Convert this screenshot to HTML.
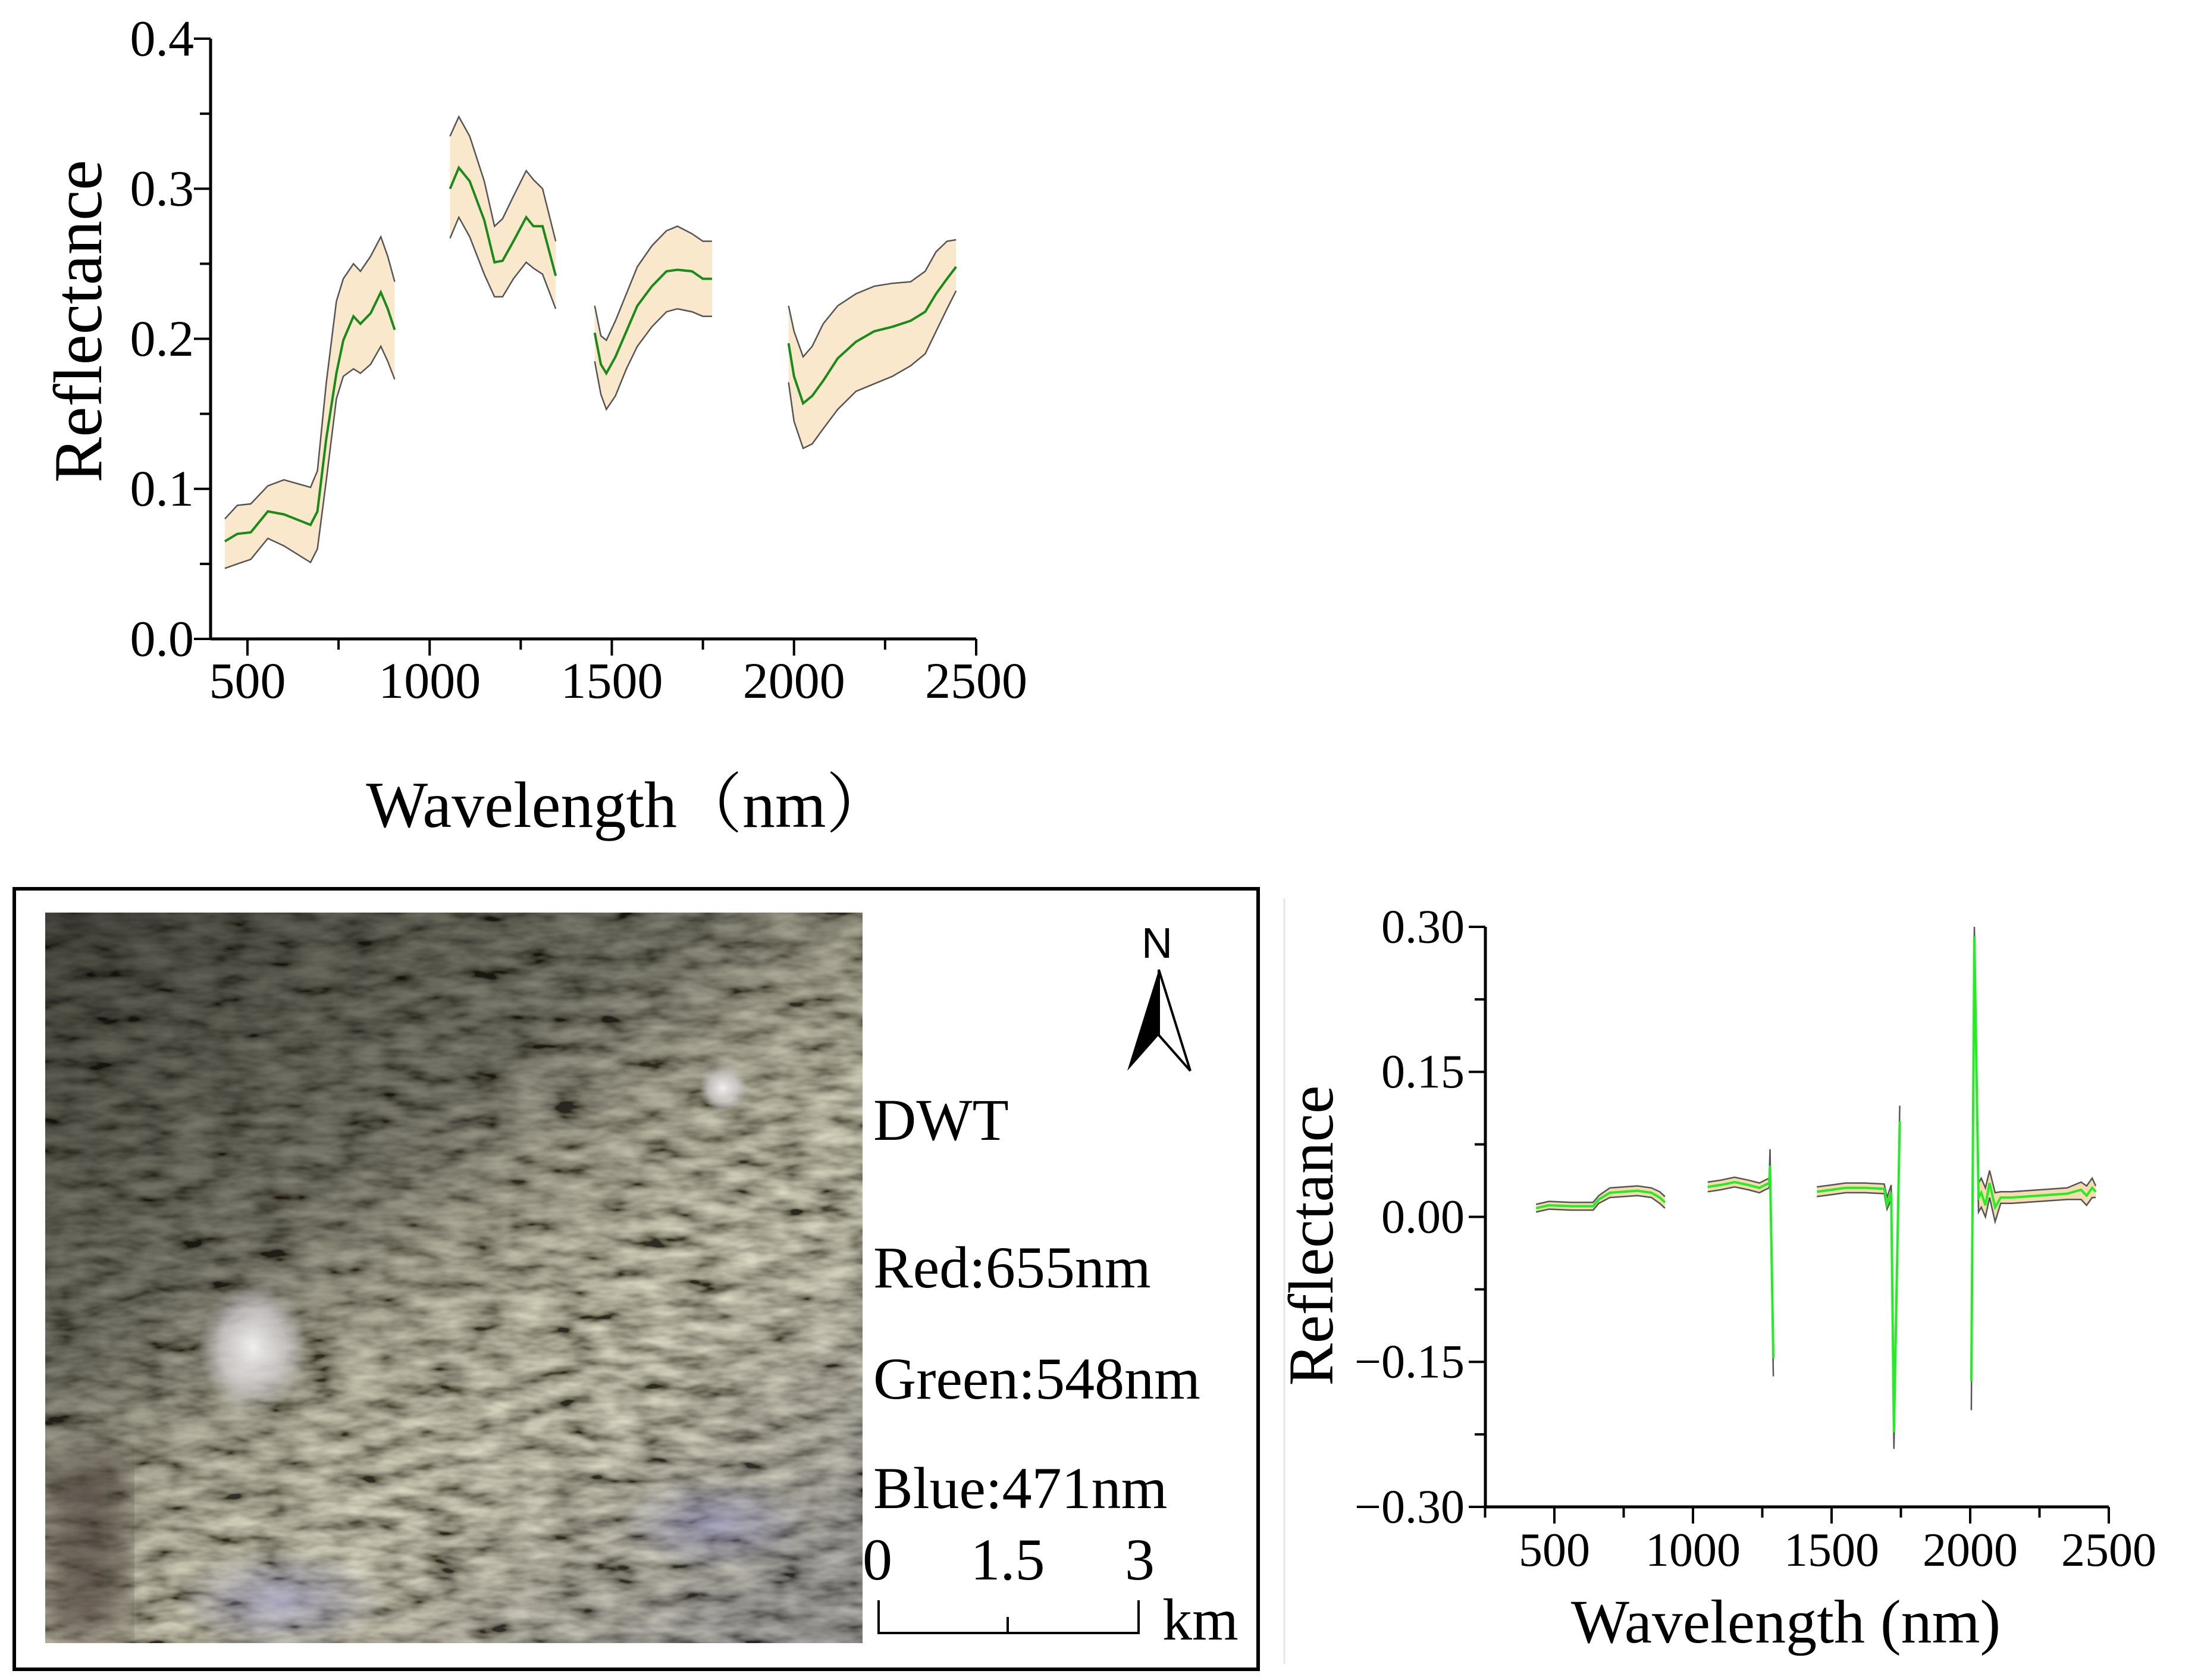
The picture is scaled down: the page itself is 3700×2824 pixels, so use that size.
<!DOCTYPE html>
<html><head><meta charset="utf-8"><style>
html,body{margin:0;padding:0;background:#fff;}
svg{display:block;font-family:"Liberation Serif","Noto Serif CJK SC",serif;}
</style></head><body>
<svg id="fig" width="3700" height="2824" viewBox="0 0 3700 2824" xmlns="http://www.w3.org/2000/svg">
<defs>
<filter id="tex" x="0" y="0" width="100%" height="100%">
<feTurbulence type="fractalNoise" baseFrequency="0.014 0.04" numOctaves="3" seed="11" result="n"/>
<feColorMatrix type="matrix" in="n" values="1.45 0 0 0 -0.28  1.42 0 0 0 -0.28  1.2 0 0 0 -0.25  0 0 0 0 1"/>
</filter>
<filter id="blur"><feGaussianBlur stdDeviation="25"/></filter>
<linearGradient id="shade" x1="0" y1="0" x2="0.8" y2="1">
<stop offset="0" stop-color="#0e0e0a" stop-opacity="0.7"/>
<stop offset="0.4" stop-color="#1e1e18" stop-opacity="0.45"/>
<stop offset="0.7" stop-color="#c8c2a0" stop-opacity="0.1"/>
<stop offset="1" stop-color="#50506a" stop-opacity="0.3"/>
</linearGradient>
<radialGradient id="wspot"><stop offset="0" stop-color="#f0eeee"/><stop offset="0.6" stop-color="#d8d4d8" stop-opacity="0.7"/><stop offset="1" stop-color="#c8c4d0" stop-opacity="0"/></radialGradient>
<radialGradient id="bspot"><stop offset="0" stop-color="#9a98c8" stop-opacity="0.6"/><stop offset="1" stop-color="#8a88b8" stop-opacity="0"/></radialGradient>
<clipPath id="imgclip"><rect x="76" y="1534" width="1374" height="1228"/></clipPath>
</defs>
<g id="top-chart"></g>
<g id="map">
<rect x="24" y="1494" width="2091" height="1312" fill="none" stroke="#000" stroke-width="6"/>
<g clip-path="url(#imgclip)">
<rect x="76" y="1534" width="1374" height="1228" fill="#6e6c58"/>
<rect x="76" y="1534" width="1374" height="1228" filter="url(#tex)" opacity="0.8"/>
<rect x="76" y="1534" width="1374" height="1228" fill="url(#shade)"/>
<rect x="83" y="2454" width="130" height="300" fill="#3a2e2a" opacity="0.55" filter="url(#blur)"/>
<ellipse cx="425" cy="2265" rx="90" ry="110" fill="url(#wspot)"/>
<ellipse cx="1215" cy="1829" rx="40" ry="40" fill="url(#wspot)"/>
<ellipse cx="472" cy="2690" rx="180" ry="90" fill="url(#bspot)"/>
<ellipse cx="1200" cy="2560" rx="160" ry="80" fill="url(#bspot)"/>
</g>
<text x="1468" y="1916" font-size="100">DWT</text>
<text x="1468" y="2164" font-size="100">Red:655nm</text>
<text x="1468" y="2351" font-size="100">Green:548nm</text>
<text x="1468" y="2535" font-size="100">Blue:471nm</text>
<g>
<text x="1475" y="2655" font-size="100" text-anchor="middle">0</text>
<text x="1694" y="2655" font-size="100" text-anchor="middle">1.5</text>
<text x="1916" y="2655" font-size="100" text-anchor="middle">3</text>
<path d="M1477 2690 V2745 H1914 V2690 M1694 2745 V2718" fill="none" stroke="#000" stroke-width="4"/>
<text x="1954" y="2756" font-size="100">km</text>
</g>
<g>
<text x="1945" y="1610" font-size="72" font-family="Liberation Sans" text-anchor="middle">N</text>
<path d="M1948 1630 L1895 1800 L1948 1740 Z" fill="#000"/>
<path d="M1948 1630 L2001 1800 L1948 1740 Z" fill="#fff" stroke="#000" stroke-width="4"/>
</g>
</g>
<line x1="2159" y1="1510" x2="2159" y2="2797" stroke="#e6e6e6" stroke-width="3"/>
<g id="bot-chart"></g>
</svg>
<script>
// ---- top chart data ----
const topWl1=[438,472,509,556,600,673,692,716,744,763,791,810,838,866,885,904];
const topMean1=[0.065,0.070,0.071,0.085,0.083,0.076,0.085,0.133,0.177,0.199,0.215,0.210,0.217,0.231,0.220,0.206];
const topUp1=[0.080,0.089,0.090,0.102,0.106,0.101,0.112,0.170,0.225,0.240,0.250,0.245,0.255,0.268,0.255,0.238];
const topLo1=[0.047,0.050,0.053,0.067,0.062,0.051,0.060,0.105,0.160,0.175,0.180,0.177,0.183,0.195,0.185,0.173];
const topWl2=[1056,1080,1110,1150,1178,1200,1230,1265,1285,1310,1346];
const topMean2=[0.300,0.314,0.305,0.279,0.251,0.252,0.265,0.281,0.275,0.275,0.242];
const topUp2=[0.335,0.348,0.335,0.305,0.275,0.280,0.295,0.312,0.306,0.300,0.265];
const topLo2=[0.267,0.281,0.268,0.243,0.228,0.228,0.240,0.251,0.247,0.243,0.220];
const topWl3=[1453,1470,1485,1510,1540,1570,1610,1650,1680,1720,1750,1775];
const topMean3=[0.204,0.183,0.177,0.188,0.205,0.222,0.235,0.245,0.246,0.245,0.240,0.240];
const topUp3=[0.222,0.202,0.199,0.212,0.230,0.248,0.262,0.272,0.275,0.270,0.265,0.265];
const topLo3=[0.185,0.163,0.153,0.162,0.180,0.195,0.208,0.218,0.220,0.218,0.215,0.215];
const topWl4=[1985,2000,2025,2050,2080,2120,2170,2220,2270,2320,2360,2390,2420,2445];
const topMean4=[0.197,0.175,0.157,0.162,0.172,0.187,0.198,0.205,0.208,0.212,0.218,0.230,0.240,0.248];
const topUp4=[0.222,0.205,0.188,0.195,0.210,0.222,0.230,0.235,0.237,0.238,0.245,0.258,0.265,0.266];
const topLo4=[0.171,0.145,0.127,0.130,0.140,0.153,0.165,0.170,0.175,0.182,0.190,0.205,0.220,0.232];
const topXTicks=[500,1000,1500,2000,2500];
const topYTicks=[0.0,0.1,0.2,0.3,0.4];
const topYLabels=["0.0","0.1","0.2","0.3","0.4"];
// ---- bottom chart data ----
const botWl1=[434,480,560,640,660,700,750,800,850,880,899];
const botMean1=[0.009,0.012,0.011,0.011,0.018,0.025,0.026,0.027,0.025,0.020,0.015];
const botUp1=[0.013,0.016,0.015,0.015,0.022,0.030,0.031,0.032,0.030,0.026,0.021];
const botLo1=[0.005,0.008,0.007,0.007,0.014,0.020,0.021,0.022,0.020,0.014,0.009];
const botWl2=[1053,1100,1150,1200,1240,1260,1275,1278,1290];
const botMean2=[0.031,0.033,0.036,0.033,0.030,0.033,0.035,0.053,-0.146];
const botUp2=[0.036,0.038,0.041,0.038,0.035,0.038,0.040,0.070,-0.140];
const botLo2=[0.026,0.028,0.031,0.028,0.025,0.028,0.030,0.040,-0.165];
const botWl3=[1447,1500,1550,1620,1690,1700,1715,1725,1746];
const botMean3=[0.026,0.028,0.030,0.030,0.029,0.013,0.025,-0.223,0.099];
const botUp3=[0.031,0.033,0.035,0.035,0.034,0.020,0.033,-0.215,0.115];
const botLo3=[0.021,0.023,0.025,0.025,0.024,0.008,0.018,-0.240,0.090];
const botWl4=[2004,2015,2030,2040,2055,2070,2090,2110,2150,2250,2350,2400,2420,2440,2453];
const botMean4=[-0.170,0.290,0.020,0.025,0.012,0.035,0.010,0.020,0.020,0.022,0.024,0.028,0.022,0.030,0.026];
const botUp4=[-0.160,0.300,0.035,0.040,0.030,0.048,0.025,0.026,0.026,0.028,0.030,0.036,0.032,0.040,0.032];
const botLo4=[-0.200,0.280,0.005,0.010,0.000,0.020,-0.005,0.014,0.014,0.016,0.018,0.018,0.012,0.020,0.020];
const botXTicks=[500,1000,1500,2000,2500];
const botYTicks=[0.30,0.15,0.0,-0.15,-0.30];
const botYLabels=["0.30","0.15","0.00","\u22120.15","\u22120.30"];

const NS="http://www.w3.org/2000/svg";
function mk(tag,attrs,parent){const e=document.createElementNS(NS,tag);for(const k in attrs)e.setAttribute(k,attrs[k]);parent.appendChild(e);return e;}

function drawChart(g,cfg,segs){
  const sx=v=>cfg.x0+(v-500)*(cfg.x1-cfg.x0)/2000;
  const sy=v=>cfg.yb+(v-cfg.ymin)*(cfg.yt-cfg.yb)/(cfg.ymax-cfg.ymin);
  const pts=(w,a)=>w.map((v,i)=>sx(v).toFixed(1)+","+sy(a[i]).toFixed(1));
  segs.forEach((s,si)=>{
    const up=pts(s[0],s[2]), lo=pts(s[0],s[3]).reverse();
    const band=mk('polygon',{points:up.concat(lo).join(' '),fill:cfg.fill,stroke:'none'},g);
    
    
    const u=mk('polyline',{points:up.join(' '),fill:'none',stroke:'#555',"stroke-width":2.5},g);
    
    
    const l=mk('polyline',{points:lo.join(' '),fill:'none',stroke:'#555',"stroke-width":2.5},g);
    
    
    const m=mk('polyline',{points:pts(s[0],s[1]).join(' '),fill:'none',stroke:cfg.line,"stroke-width":cfg.lw},g);
    
    
  });
  const ax=mk('path',{d:`M${cfg.axL} ${cfg.yb} H${sx(2500)} M${cfg.axL} ${cfg.yb} V${cfg.yt}`,fill:'none',stroke:'#000',"stroke-width":5},g);
  
  
  let d='';
  for(let v=cfg.minorStart;v<=2500;v+=250){const X=sx(v);d+=`M${X} ${cfg.yb} V${cfg.yb+(v%500===0?28:18)}`;}
  const yStep=cfg.ystep/2;
  for(let k=0;k<=Math.round((cfg.ymax-cfg.ymin)/yStep);k++){const v=cfg.ymin+k*yStep;const Y=sy(v);d+=`M${cfg.axL} ${Y} H${cfg.axL-(k%2===0?28:18)}`;}
  const tk=mk('path',{d:d,fill:'none',stroke:'#000',"stroke-width":4},g);
  
  
  cfg.xt.forEach(v=>{const t=mk('text',{x:sx(v),y:cfg.xly,"font-size":cfg.fs,"text-anchor":"middle"},g);t.textContent=String(v);
    
    });
  cfg.yt_.forEach((v,i)=>{const t=mk('text',{x:cfg.ylx,y:sy(v)+cfg.fs*0.33,"font-size":cfg.fs,"text-anchor":"end"},g);t.textContent=cfg.yl[i];
    
    });
  const yt=mk('text',{x:0,y:0,"font-size":cfg.tfs,"text-anchor":"middle",transform:`translate(${cfg.ytx},${cfg.yty}) rotate(-90)`},g);
  yt.textContent='Reflectance';
  
  
  const xt=mk('text',{x:cfg.xtx,y:cfg.xty,"font-size":cfg.xtfs,"text-anchor":"middle"},g);
  xt.textContent=cfg.xtitle;
  
  
}

drawChart(document.getElementById('top-chart'),
 {x0:416,x1:1641,axL:354,yb:1074,yt:65,ymin:0,ymax:0.4,ystep:0.1,minorStart:500,fill:'#f9e8cb',line:'#1a8a1a',lw:4,
  xt:topXTicks,yt_:topYTicks,yl:topYLabels,fs:86,xly:1173,ylx:326,tfs:115,ytx:170,yty:540,
  xtx:1057,xty:1390,xtfs:110,xtitle:'Wavelength\uFF08nm\uFF09'},
 [[topWl1,topMean1,topUp1,topLo1],[topWl2,topMean2,topUp2,topLo2],[topWl3,topMean3,topUp3,topLo3],[topWl4,topMean4,topUp4,topLo4]]);

drawChart(document.getElementById('bot-chart'),
 {x0:2613,x1:3545,axL:2497,yb:2533,yt:1558,ymin:-0.30,ymax:0.30,ystep:0.15,minorStart:250,fill:'#f6dcb0',line:'#22ee22',lw:4,
  xt:botXTicks,yt_:botYTicks,yl:botYLabels,fs:80,xly:2632,ylx:2462,tfs:107,ytx:2240,yty:2077,
  xtx:3002,xty:2761,xtfs:104,xtitle:'Wavelength (nm)'},
 [[botWl1,botMean1,botUp1,botLo1],[botWl2,botMean2,botUp2,botLo2],[botWl3,botMean3,botUp3,botLo3],[botWl4,botMean4,botUp4,botLo4]]);
</script>
</body></html>
